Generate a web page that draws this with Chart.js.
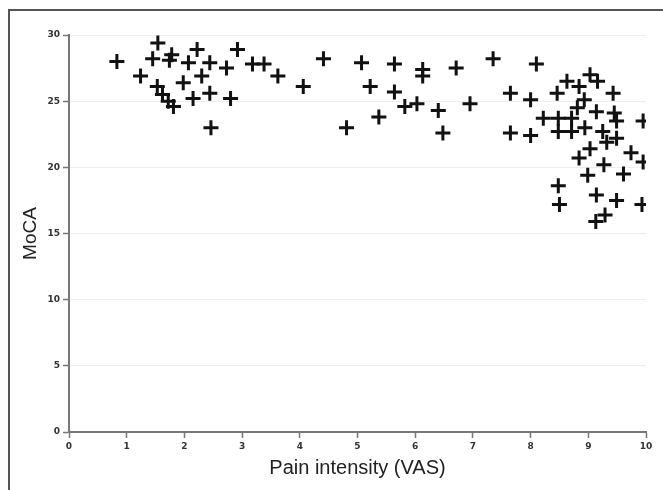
<!DOCTYPE html>
<html>
<head>
<meta charset="utf-8">
<script src="https://cdn.jsdelivr.net/npm/chart.js@4.4.1/dist/chart.umd.min.js"></script>
<style>
  body { margin: 0; background: #fff; }
  #wrap { position: relative; width: 663px; height: 490px; }
  #frame { position: absolute; left: 8px; top: 9px; right: 0; bottom: 0;
           border-left: 2px solid #555; border-top: 2px solid #555; }
  canvas { position: absolute; left: 0; top: 0; }
</style>
</head>
<body>
<div id="wrap">
  <div id="frame"></div>
  <canvas id="scatterChart" width="663" height="490"></canvas>
</div>
<script>
// Pain intensity (VAS) vs MoCA
const painVAS = [
    0.83, 1.24, 1.54, 1.45, 1.53, 1.62, 1.72, 1.81, 1.78, 1.74,
    2.07, 2.22, 1.98, 2.30, 2.15, 2.44, 2.44, 2.46, 2.73, 2.80,
    2.92, 3.18, 3.38, 3.62, 4.06, 4.41, 4.81,
    5.07, 5.22, 5.37, 5.64, 5.64, 5.82, 6.03, 6.13, 6.13, 6.40,
    6.48, 6.71, 6.95, 7.35, 7.65, 7.65, 8.00, 8.00, 8.10,
    8.22, 8.46, 8.48, 8.48, 8.63, 8.71, 8.71, 8.84, 8.81, 8.93,
    9.03, 9.16, 8.94, 9.14, 9.43, 9.45, 9.49, 9.95, 9.25, 9.49,
    9.32, 9.03, 8.84, 9.27, 9.74, 9.95, 8.99, 9.61, 8.48, 9.14,
    9.49, 9.93, 8.50, 9.29, 9.13
];
const mocaScore = [
    28.0, 26.9, 29.4, 28.2, 26.1, 25.5, 25.0, 24.6, 28.5, 28.1,
    27.9, 28.9, 26.4, 26.9, 25.2, 27.9, 25.6, 23.0, 27.5, 25.2,
    28.9, 27.8, 27.8, 26.9, 26.1, 28.2, 23.0,
    27.9, 26.1, 23.8, 27.8, 25.7, 24.6, 24.8, 27.4, 26.9, 24.3,
    22.6, 27.5, 24.8, 28.2, 25.6, 22.6, 25.1, 22.4, 27.8,
    23.7, 25.6, 23.7, 22.7, 26.5, 23.7, 22.7, 26.1, 24.5, 25.1,
    27.0, 26.5, 23.0, 24.2, 25.6, 24.1, 23.5, 23.5, 22.7, 22.2,
    21.9, 21.4, 20.7, 20.2, 21.1, 20.4, 19.4, 19.5, 18.6, 17.9,
    17.5, 17.2, 17.2, 16.4, 15.9
];
const xTitle = 'Pain intensity (VAS)';
const yTitle = 'MoCA';

const points = painVAS.map((x, i) => ({ x: x, y: mocaScore[i] }));

const tickFont = { family: 'DejaVu Sans', size: 9, weight: 'bold' };

const ctx = document.getElementById('scatterChart').getContext('2d');
const scatterChart = new Chart(ctx, {
    type: 'scatter',
    data: {
        datasets: [{
            data: points,
            pointStyle: 'cross',
            pointRadius: 7.5,
            pointHoverRadius: 7.5,
            pointBorderWidth: 3,
            borderColor: '#111',
            backgroundColor: '#111'
        }]
    },
    options: {
        responsive: false,
        animation: false,
        events: [],
        layout: { padding: { top: 35, right: 17, left: 0, bottom: 0 } },
        plugins: { legend: { display: false }, tooltip: { enabled: false } },
        scales: {
            x: {
                type: 'linear',
                min: 0, max: 10,
                ticks: { stepSize: 1, color: '#333', font: tickFont, padding: 3, maxRotation: 0 },
                grid: { drawOnChartArea: false, tickLength: 6, tickColor: '#777', tickWidth: 1.5 },
                border: { color: '#777', width: 2 },
                title: {
                    display: true, text: xTitle, color: '#222',
                    font: { family: 'Liberation Sans', size: 20 },
                    padding: { top: 4, bottom: 10 }
                },
                afterFit: (scale) => { scale.height = 58; }
            },
            y: {
                min: 0, max: 30,
                ticks: { stepSize: 5, color: '#333', font: tickFont, padding: 3 },
                grid: { color: '#eeeeee', lineWidth: 1, tickLength: 6, tickColor: '#777', tickWidth: 1.5 },
                border: { color: '#777', width: 2 },
                title: {
                    display: true, text: yTitle, color: '#222',
                    font: { family: 'Liberation Sans', size: 19 },
                    padding: { top: 19, bottom: 0 }
                },
                afterFit: (scale) => { scale.width = 69; }
            }
        }
    }
});
</script>
</body>
</html>
